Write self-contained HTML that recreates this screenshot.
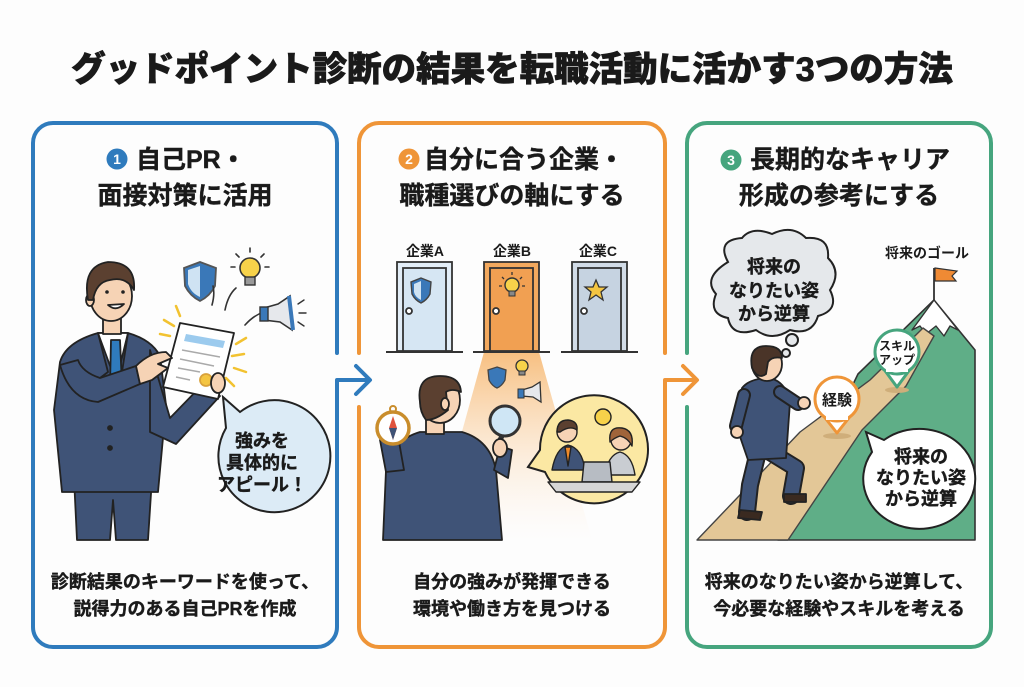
<!DOCTYPE html>
<html><head><meta charset="utf-8">
<style>
html,body{margin:0;padding:0;background:#fdfdfd;}
svg{display:block;}
text{font-family:"Liberation Sans","Noto Sans CJK JP",sans-serif;font-weight:700;fill:#1a1a1a;}
.hv{stroke:#1a1a1a;stroke-width:0.7px;}
.hm{stroke:#1a1a1a;stroke-width:0.4px;}
</style></head>
<body>
<svg width="1024" height="687" viewBox="0 0 1024 687" xmlns="http://www.w3.org/2000/svg">
<defs>
<linearGradient id="beam" x1="0" y1="0" x2="0" y2="1">
<stop offset="0" stop-color="#f6b46a" stop-opacity="0.85"/>
<stop offset="1" stop-color="#fde9d2" stop-opacity="0"/>
</linearGradient>
</defs>
<rect width="1024" height="687" fill="#fdfdfd"/>

<!-- Title -->
<text class="hv" x="512" y="81" font-size="34.5" text-anchor="middle" style="font-weight:900">グッドポイント診断の結果を転職活動に活かす3つの方法</text>

<!-- Panel borders -->
<g fill="none" stroke-width="4" stroke-linecap="round" stroke-linejoin="round">
<path d="M369,380 H337 V627 A20 20 0 0 1 317 647 H53 A20 20 0 0 1 33 627 V143 A20 20 0 0 1 53 123 H317 A20 20 0 0 1 337 143 V353" stroke="#2f7bbd"/>
<path d="M356,366 L370,380 L356,394" stroke="#2f7bbd"/>
<path d="M696,380 H665 V627 A20 20 0 0 1 645 647 H379 A20 20 0 0 1 359 627 V407" stroke="#ef9538"/>
<path d="M359,353 V143 A20 20 0 0 1 379 123 H645 A20 20 0 0 1 665 143 V353" stroke="#ef9538"/>
<path d="M683,366 L697,380 L683,394" stroke="#ef9538"/>
<path d="M687,407 V627 A20 20 0 0 0 707 647 H971 A20 20 0 0 0 991 627 V143 A20 20 0 0 0 971 123 H707 A20 20 0 0 0 687 143 V353" stroke="#46a57e"/>
</g>

<!-- Headings -->
<circle cx="117" cy="159" r="10.5" fill="#2f7bbd"/>
<text x="117" y="164" font-size="14" text-anchor="middle" style="fill:#fff">1</text>
<text class="hm" x="136" y="168" font-size="25">自己PR・</text>
<text class="hm" x="185" y="204" font-size="25" text-anchor="middle">面接対策に活用</text>

<circle cx="409" cy="159" r="10.5" fill="#ef9538"/>
<text x="409" y="164" font-size="14" text-anchor="middle" style="fill:#fff">2</text>
<text class="hm" x="424" y="168" font-size="25">自分に合う企業・</text>
<text class="hm" x="512" y="204" font-size="25" text-anchor="middle">職種選びの軸にする</text>

<circle cx="731" cy="160" r="10.5" fill="#46a57e"/>
<text x="731" y="165" font-size="14" text-anchor="middle" style="fill:#fff">3</text>
<text class="hm" x="750" y="168" font-size="25">長期的なキャリア</text>
<text class="hm" x="839" y="204" font-size="25" text-anchor="middle">形成の参考にする</text>

<!-- Bottom text -->
<text class="hm" x="185" y="588" font-size="18" text-anchor="middle">診断結果のキーワードを使って、</text>
<text class="hm" x="185" y="615" font-size="18" text-anchor="middle">説得力のある自己PRを作成</text>
<text class="hm" x="512" y="588" font-size="18" text-anchor="middle">自分の強みが発揮できる</text>
<text class="hm" x="512" y="615" font-size="18" text-anchor="middle">環境や働き方を見つける</text>
<text class="hm" x="839" y="588" font-size="18" text-anchor="middle">将来のなりたい姿から逆算して、</text>
<text class="hm" x="839" y="615" font-size="18" text-anchor="middle">今必要な経験やスキルを考える</text>

<!-- ===== Panel 1 illustration ===== -->
<g stroke="#222" stroke-width="1.8" stroke-linejoin="round">
<path d="M74,478 L152,478 L148,540 L116,540 L113,500 L110,540 L77,540 Z" fill="#3f5377"/>
<path d="M60,362 Q66,342 98,333 L128,333 Q152,340 160,356 L166,405 L158,492 L62,492 L54,410 Z" fill="#3f5377"/>
<path d="M98,333 L128,333 L116,382 Z" fill="#fff"/>
<path d="M111,340 L120,340 L122,386 L116,394 L110,386 Z" fill="#2f7bbd"/>
<path d="M98,333 L108,372 L100,378 M128,333 L122,372 L130,378" fill="none"/>
<circle cx="110" cy="428" r="2" fill="#222"/>
<circle cx="110" cy="448" r="2" fill="#222"/>
<path d="M150,350 L170,418 L205,382 L220,396 L176,444 L150,432 Z" fill="#3f5377"/>
<path d="M180,323 L234,333 L218,399 L163,387 Z" fill="#fff"/>
<path d="M186,334 L225,341 L223,348 L184,341 Z" fill="#9ccbee" stroke="none"/>
<path d="M182,350 L220,357 M180,359 L214,366 M178,368 L200,372 M176,377 L190,380" stroke="#aaa" stroke-width="1.5"/>
<circle cx="206" cy="380" r="6" fill="#f4c542" stroke="#d9a23c"/>
<ellipse cx="218" cy="383" rx="7" ry="10" fill="#f6d3b5"/>
<path d="M60,365 Q70,400 98,402 L140,384 L136,366 L100,378 Q82,372 78,360 Z" fill="#3f5377"/>
<path d="M136,366 Q150,352 166,352 L172,358 L158,364 L168,368 L152,380 L140,384 Z" fill="#f6d3b5"/>
<rect x="103" y="314" width="18" height="20" fill="#f6d3b5"/>
<ellipse cx="111" cy="296" rx="21" ry="25" fill="#f6d3b5"/>
<ellipse cx="90" cy="300" rx="4" ry="6" fill="#f6d3b5"/>
<path d="M88,300 Q82,266 108,262 Q136,262 134,290 Q126,276 110,280 Q96,282 93,300 Z" fill="#5b4030"/>
<circle cx="107" cy="292" r="1.8" fill="#222" stroke="none"/>
<circle cx="123" cy="292" r="1.8" fill="#222" stroke="none"/>
<path d="M108,305 Q116,312 124,304 Z" fill="#fff"/>
</g>
<g stroke="#f2c230" stroke-width="2.5" stroke-linecap="round">
<path d="M164,320 L174,326 M176,306 L180,316 M160,334 L170,336 M232,356 L244,354 M234,368 L246,372 M226,378 L234,386 M236,344 L246,338"/>
</g>
<path d="M200,262 L216,268 L215,286 Q210,296 200,301 Q190,296 185,286 L184,268 Z" fill="#3a78b8" stroke="#555" stroke-width="1.8"/>
<path d="M200,266 L200,297 Q191,293 188,284 L188,270 Z" fill="#cfe3f3"/>
<circle cx="250" cy="268" r="10" fill="#f7d24a" stroke="#333" stroke-width="1.6"/>
<rect x="245" y="277" width="10" height="8" fill="#999" stroke="#333" stroke-width="1.4"/>
<g stroke="#333" stroke-width="1.6" stroke-linecap="round"><path d="M250,248 V252 M236,254 L239,257 M264,254 L261,257 M231,267 H235 M265,267 H269"/></g>
<g stroke="#333" stroke-width="1.6" stroke-linecap="round" fill="none"><path d="M212,305 Q215,294 213,286 M225,310 Q228,295 236,288 M245,325 Q254,315 264,312"/></g>
<path d="M264,308 L278,304 L290,296 L292,330 L280,322 L264,320 Z" fill="#e6e8ec" stroke="#333" stroke-width="1.6"/>
<rect x="260" y="307" width="8" height="14" fill="#3a78b8" stroke="#333" stroke-width="1.4"/>
<path d="M289,296 L293,330" stroke="#3a78b8" stroke-width="4"/>
<g stroke="#333" stroke-width="1.4" stroke-linecap="round"><path d="M298,304 L304,300 M299,313 H306 M298,322 L304,326"/></g>
<path d="M223,397 L240,412 A56 56 0 1 1 226 428 Z" fill="#dcebf6" stroke="#222" stroke-width="2"/>
<text class="hm" x="262" y="447" font-size="18" text-anchor="middle">強みを</text>
<text class="hm" x="262" y="469" font-size="18" text-anchor="middle">具体的に</text>
<text class="hm" x="262" y="491" font-size="18" text-anchor="middle">アピール！</text>

<!-- ===== Panel 2 illustration ===== -->
<text x="425" y="256" font-size="14" text-anchor="middle">企業A</text>
<text x="512" y="256" font-size="14" text-anchor="middle">企業B</text>
<text x="598" y="256" font-size="14" text-anchor="middle">企業C</text>
<path d="M484,352 L539,352 L592,540 L432,540 Z" fill="url(#beam)"/>
<g stroke="#333" stroke-width="1.8">
<rect x="397" y="262" width="55" height="89" fill="#e2edf7"/>
<rect x="403" y="268" width="43" height="83" fill="#d6e6f3"/>
<rect x="484" y="262" width="55" height="89" fill="#f3a95e"/>
<rect x="490" y="268" width="43" height="83" fill="#f1a052"/>
<rect x="572" y="262" width="55" height="89" fill="#d2dce7"/>
<rect x="578" y="268" width="43" height="83" fill="#c6d3e1"/>
<circle cx="409" cy="311" r="3" fill="#fff"/>
<circle cx="496" cy="311" r="3" fill="#fff"/>
<circle cx="584" cy="311" r="3" fill="#fff"/>
</g>
<g stroke="#333" stroke-width="2"><path d="M386,352 H463 M473,352 H550 M561,352 H638"/></g>
<path d="M421,278 L431,282 L430,294 Q427,300 421,303 Q415,300 412,294 L411,282 Z" fill="#3a78b8" stroke="#444" stroke-width="1.4"/>
<path d="M421,281 L421,300 Q415,297 414,292 L414,284 Z" fill="#cfe3f3"/>
<circle cx="512" cy="285" r="7" fill="#f7d24a" stroke="#333" stroke-width="1.4"/>
<rect x="509" y="291" width="6" height="5" fill="#888" stroke="#333" stroke-width="1"/>
<g stroke="#333" stroke-width="1.3"><path d="M512,272 V275 M502,277 L504,279 M522,277 L520,279 M499,286 H502 M522,286 H525"/></g>
<path d="M596,280 L599,287 L607,287 L601,292 L603,300 L596,295 L589,300 L591,292 L585,287 L593,287 Z" fill="#f4c542" stroke="#333" stroke-width="1.3"/>
<path d="M497,367 L506,370 L505,380 Q502,386 497,388 Q492,386 489,380 L488,370 Z" fill="#3a78b8" stroke="#444" stroke-width="1.3"/>
<circle cx="522" cy="366" r="6" fill="#f7d24a" stroke="#333" stroke-width="1.3"/>
<rect x="519" y="371" width="6" height="4" fill="#888" stroke="#333" stroke-width="1"/>
<path d="M522,390 L532,387 L540,382 L541,402 L533,397 L522,396 Z" fill="#e6e8ec" stroke="#333" stroke-width="1.3"/>
<rect x="518" y="389" width="6" height="9" fill="#3a78b8" stroke="#333" stroke-width="1"/>
<g stroke="#222" stroke-width="1.8" stroke-linejoin="round">
<path d="M383,540 L386,470 Q392,440 420,432 L462,432 Q490,440 496,470 L502,540 Z" fill="#3f5377"/>
<path d="M386,472 L380,440 L398,436 L404,470 Z" fill="#3f5377"/>
<path d="M494,470 L500,446 L512,450 L508,478 Z" fill="#3f5377"/>
<circle cx="393" cy="428" r="16" fill="#fff" stroke="#c98d2c" stroke-width="3.5"/>
<circle cx="393" cy="409" r="3" fill="none" stroke="#c98d2c" stroke-width="2"/>
<path d="M393,416 L397,428 L393,440 L389,428 Z" fill="#e0533d" stroke="none"/>
<path d="M393,440 L389,428 L397,428 Z" fill="#3f5377" stroke="none"/>
<path d="M496,448 L502,436" stroke="#333" stroke-width="5"/>
<circle cx="505" cy="421" r="15" fill="#cfe6f5" stroke="#333" stroke-width="3"/>
<ellipse cx="500" cy="448" rx="7" ry="9" fill="#f6d3b5"/>
<rect x="426" y="418" width="18" height="16" fill="#f6d3b5"/>
<ellipse cx="440" cy="400" rx="20" ry="23" fill="#f6d3b5"/>
<path d="M420,402 Q416,376 440,376 Q460,376 461,392 Q452,388 446,392 L448,410 Q436,420 426,420 Q420,412 420,402 Z" fill="#5b4030"/>
<ellipse cx="445" cy="404" rx="4" ry="6" fill="#f6d3b5"/>
</g>
<path d="M528,467 L540,450 A54 54 0 1 1 545 472 Z" fill="#fbe8a3" stroke="#222" stroke-width="2"/>
<g stroke="#222" stroke-width="1.4" stroke-linejoin="round">
<path d="M552,470 Q556,448 568,445 Q582,448 585,470 Z" fill="#3f5377"/>
<path d="M565,447 L568,466 L571,447 Z" fill="#f08a2a"/>
<circle cx="567" cy="432" r="10" fill="#f6d3b5"/>
<path d="M557,432 Q557,420 568,420 Q578,421 577,430 Q570,425 560,432 Z" fill="#5b4030"/>
<path d="M605,475 Q608,455 620,452 Q632,455 635,475 Z" fill="#c9cdd2"/>
<circle cx="621" cy="440" r="10" fill="#f6d3b5"/>
<path d="M610,442 Q608,426 622,428 Q634,430 632,446 Q628,438 620,436 Q614,438 610,442 Z" fill="#a0643a"/>
<path d="M584,462 L610,462 L612,482 L582,482 Z" fill="#b7bcc3"/>
<path d="M548,482 L640,482 L632,492 L556,492 Z" fill="#d6d6d6"/>
<circle cx="603" cy="417" r="8" fill="#f7d24a"/>
</g>

<!-- ===== Panel 3 illustration ===== -->
<text x="927" y="258" font-size="14" text-anchor="middle">将来のゴール</text>
<path d="M934,300 L975,350 L975,540 L778,540 L858,374 Z" fill="#5fae87" stroke="#333" stroke-width="1.6" stroke-linejoin="round"/>
<path d="M934,300 L958,330 L950,326 L944,336 L936,326 L926,334 L920,326 L912,330 Z" fill="#fff" stroke="#333" stroke-width="1.4" stroke-linejoin="round"/>
<path d="M934,300 V268" stroke="#333" stroke-width="1.8"/>
<path d="M935,268 L957,271 L952,276 L956,281 L935,281 Z" fill="#ef8a34" stroke="#333" stroke-width="1.2"/>
<path d="M697,540 L800,432 L870,380 L923,328 L934,336 L906,386 L862,430 L788,540 Z" fill="#e3c797" stroke="#444" stroke-width="1.4" stroke-linejoin="round"/>
<ellipse cx="837" cy="436" rx="14" ry="3" fill="#cfae7a"/>
<path d="M822,414 L837,433 L852,414 Z" fill="#fff" stroke="#ef9538" stroke-width="3" stroke-linejoin="round"/>
<circle cx="837" cy="399" r="22" fill="#fff" stroke="#ef9538" stroke-width="3"/>
<rect x="826" y="412" width="22" height="8" fill="#fff"/>
<text x="837" y="405" font-size="15" text-anchor="middle">経験</text>
<ellipse cx="897" cy="390" rx="12" ry="3" fill="#cfae7a"/>
<path d="M883,368 L897,387 L911,368 Z" fill="#fff" stroke="#46a57e" stroke-width="3" stroke-linejoin="round"/>
<circle cx="897" cy="352" r="22" fill="#fff" stroke="#46a57e" stroke-width="3"/>
<rect x="886" y="364" width="22" height="8" fill="#fff"/>
<text x="897" y="350" font-size="12" text-anchor="middle">スキル</text>
<text x="897" y="364" font-size="12" text-anchor="middle">アップ</text>
<g fill="#e5e8eb" stroke="#222" stroke-width="2">
<path d="M728,262 Q716,240 742,238 Q752,226 772,234 Q792,224 806,238 Q830,236 828,258 Q842,272 830,290 Q840,310 818,316 Q812,336 790,330 Q772,342 756,330 Q732,338 728,318 Q708,314 716,294 Q702,278 728,262 Z"/>
<circle cx="792" cy="340" r="6"/>
<circle cx="786" cy="353" r="4"/>
</g>
<text class="hm" x="774" y="273" font-size="18" text-anchor="middle">将来の</text>
<text class="hm" x="774" y="297" font-size="18" text-anchor="middle">なりたい姿</text>
<text class="hm" x="774" y="320" font-size="18" text-anchor="middle">から逆算</text>
<g stroke="#222" stroke-width="1.8" stroke-linejoin="round" stroke-linecap="round">
<path d="M770,452 L796,468 L791,496" fill="none" stroke="#222" stroke-width="18"/>
<path d="M770,452 L796,468 L791,496" fill="none" stroke="#3f5377" stroke-width="14"/>
<path d="M758,452 L750,485 L747,512" fill="none" stroke="#222" stroke-width="18"/>
<path d="M758,452 L750,485 L747,512" fill="none" stroke="#3f5377" stroke-width="14"/>
<path d="M784,494 L806,494 L806,502 L784,502 Z" fill="#3a2a20"/>
<path d="M740,510 L762,512 L760,520 L738,518 Z" fill="#3a2a20"/>
<path d="M742,388 Q750,378 770,378 Q786,382 790,402 L786,458 L748,460 L736,425 Z" fill="#3f5377"/>
<path d="M780,392 L798,404" fill="none" stroke="#222" stroke-width="14"/>
<path d="M780,392 L798,404" fill="none" stroke="#3f5377" stroke-width="10"/>
<circle cx="804" cy="403" r="6" fill="#f6d3b5"/>
<path d="M744,395 L736,426" fill="none" stroke="#222" stroke-width="14"/>
<path d="M744,395 L736,426" fill="none" stroke="#3f5377" stroke-width="10"/>
<circle cx="737" cy="432" r="6" fill="#f6d3b5"/>
<ellipse cx="767" cy="364" rx="15" ry="17" fill="#f6d3b5"/>
<path d="M752,368 Q748,346 766,346 Q782,346 782,358 Q772,356 768,362 L766,374 Q758,380 752,368 Z" fill="#4a3428"/>
</g>
<path d="M866,432 L884,440 A56 50 0 1 1 872 452 Z" fill="#fff" stroke="#222" stroke-width="2"/>
<text class="hm" x="921" y="463" font-size="18" text-anchor="middle">将来の</text>
<text class="hm" x="921" y="484" font-size="18" text-anchor="middle">なりたい姿</text>
<text class="hm" x="921" y="505" font-size="18" text-anchor="middle">から逆算</text>
</svg>
</body></html>
